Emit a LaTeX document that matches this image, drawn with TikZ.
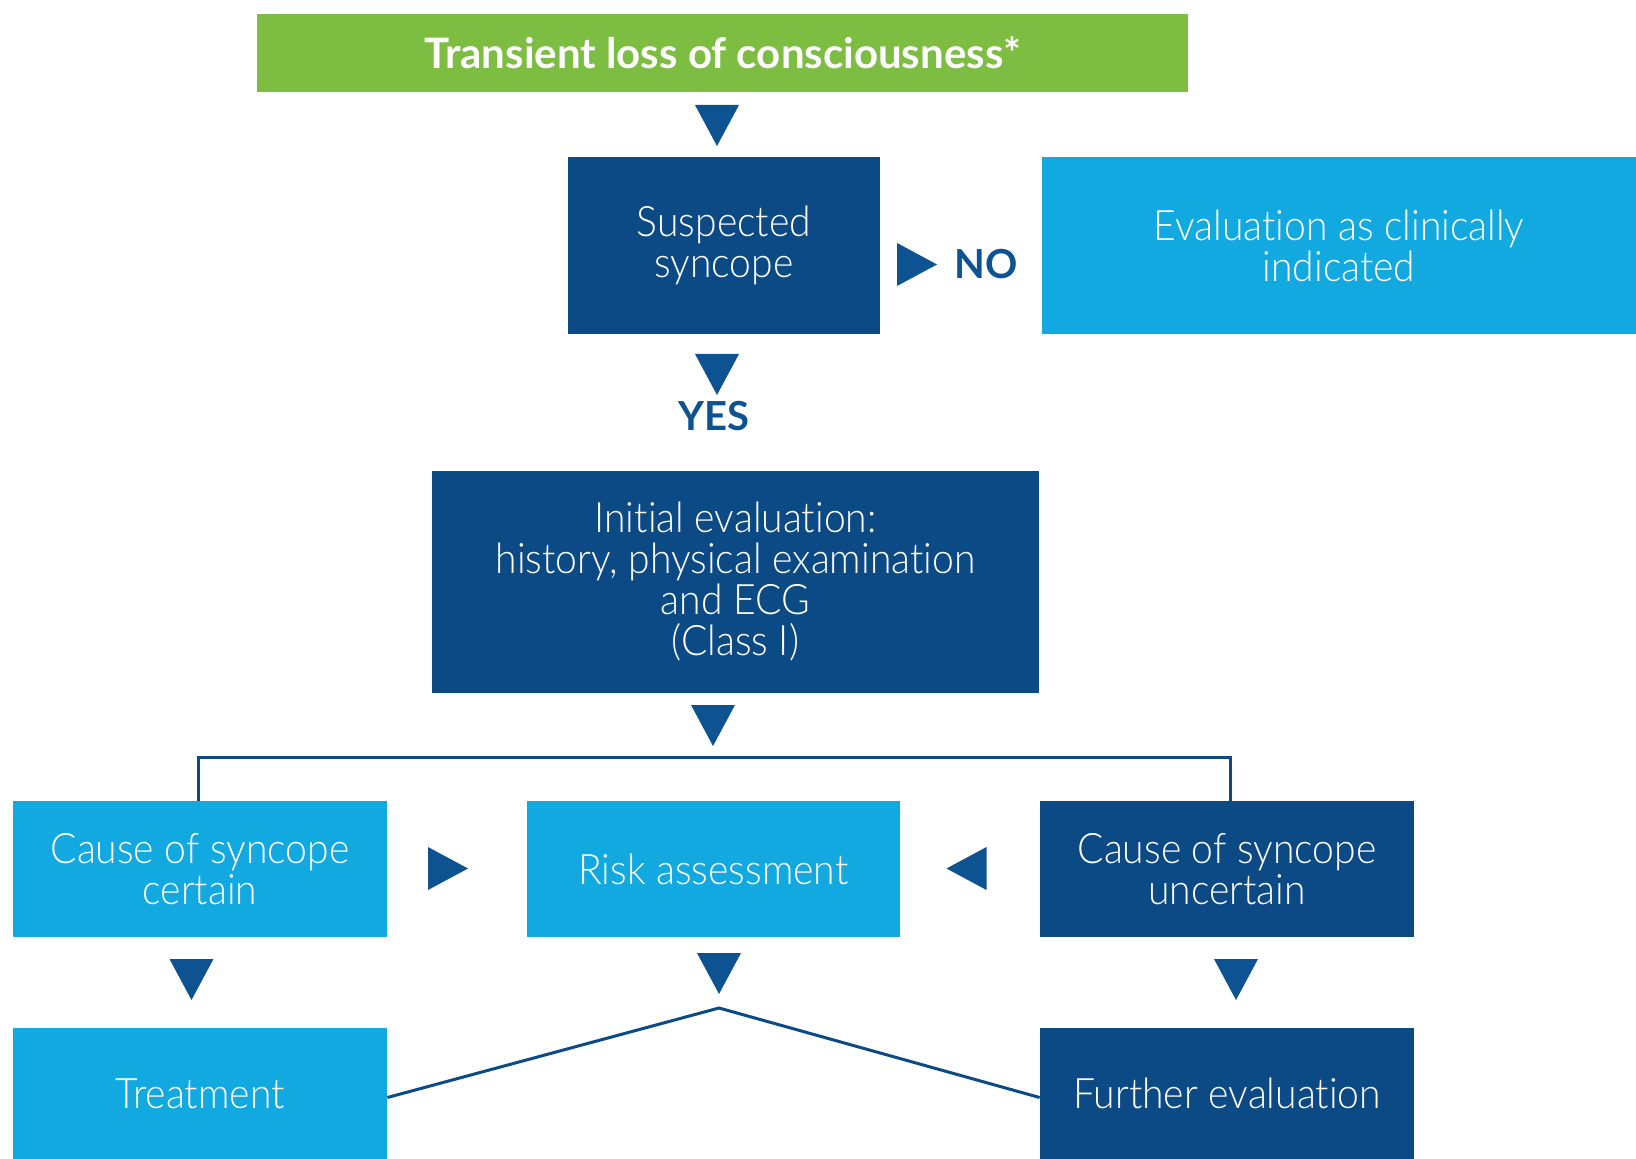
\documentclass[tikz,border=0pt]{standalone}
\usepackage{fontspec}
\setmainfont{Lato}
\newfontfamily\thinfont{Lato Light}[FakeStretch=0.93, Ligatures=NoCommon]
\usetikzlibrary{positioning, calc}
\definecolor{tlocgreen}{HTML}{7DBE42}
\definecolor{darkblue}{HTML}{0B4A84}
\definecolor{lightblue}{HTML}{12A8E0}
\definecolor{arrowblue}{HTML}{0D5291}
\newcommand{\boxfont}{\thinfont\fontsize{21}{20.5}\selectfont}
\tikzstyle{box} = [rectangle, inner sep=0pt, align=center, text=white, font=\boxfont]
\tikzstyle{dark} = [box, fill=darkblue]
\tikzstyle{light} = [box, fill=lightblue]
\tikzstyle{rowbox} = [minimum width=187pt, minimum height=68pt]
\tikzstyle{endbox} = [minimum width=187pt, minimum height=65.5pt]
\tikzstyle{answer} = [text=arrowblue, font=\bfseries\fontsize{20}{22}\selectfont]
\tikzstyle{link} = [draw=darkblue, line width=1.5pt]
\newcommand{\tridown}[1]{\fill[arrowblue] ($(#1)+(-22,-20.5)$) -- ($(#1)+(22,-20.5)$) -- ($(#1)+(0,20.5)$) -- cycle;}
\newcommand{\triright}[1]{\fill[arrowblue] ($(#1)+(-20,-21.5)$) -- ($(#1)+(-20,21.5)$) -- ($(#1)+(20,0)$) -- cycle;}
\newcommand{\trileft}[1]{\fill[arrowblue] ($(#1)+(20,-21.5)$) -- ($(#1)+(20,21.5)$) -- ($(#1)+(-20,0)$) -- cycle;}

\begin{document}
\begin{tikzpicture}[x=0.5pt, y=-0.5pt]
    \useasboundingbox (0,0) rectangle (1636,1159);
    % top of the flow
    \node (tloc) [box, fill=tlocgreen, minimum width=465.5pt, minimum height=39pt, font=\bfseries\fontsize{21}{24}\selectfont] at (722.5,53) {Transient loss of consciousness*};
    \node (sus) [dark, minimum width=156pt, minimum height=88.5pt] at (724,245.5) {Suspected\\syncope};
    \node (evalci) [light, minimum width=297pt, minimum height=88.5pt] at (1339,245.5) {Evaluation as clinically\\indicated};
    \node (init) [dark, minimum width=303.5pt, minimum height=111pt] at (735.5,582) {Initial evaluation:\\history, physical examination\\and ECG\\(Class I)};

    % middle row
    \node (certain) [light, rowbox] at (200,869) {Cause of syncope\\certain};
    \node (risk) [light, rowbox, minimum width=186.5pt] at (713.5,869) {Risk assessment};
    \node (uncertain) [dark, rowbox] at (1227,869) {Cause of syncope\\uncertain};

    % bottom row
    \node (treat) [light, endbox] at (200,1093.5) {Treatment};
    \node (further) [dark, endbox] at (1227,1093.5) {Further evaluation};

    \node (no) [answer] at (986,264) {NO};
    \node (yes) [answer] at (714,416) {YES};

    % triangles between the boxes
    \coordinate (a1) at (717,125.5);
    \coordinate (a2) at (917,264.5);
    \coordinate (a3) at (717,374.5);
    \coordinate (a4) at (713,725.5);
    \coordinate (a5) at (448,868.5);
    \coordinate (a6) at (966.5,868.5);
    \coordinate (a7) at (191.5,979.5);
    \coordinate (a8) at (719,973.5);
    \coordinate (a9) at (1236,979.5);
    \tridown{a1}
    \triright{a2}
    \tridown{a3}
    \tridown{a4}
    \triright{a5}
    \trileft{a6}
    \tridown{a7}
    \tridown{a8}
    \tridown{a9}

    % connectors
    \coordinate (split) at (713,757);
    \draw[link] ([xshift=-1pt]certain.north) |- (split) -| ([xshift=1.5pt]uncertain.north);
    \coordinate (apex) at (719,1008);
    \draw[link] ([yshift=-2pt]treat.east) -- (apex) -- ([yshift=-2pt]further.west);
\end{tikzpicture}
\end{document}
